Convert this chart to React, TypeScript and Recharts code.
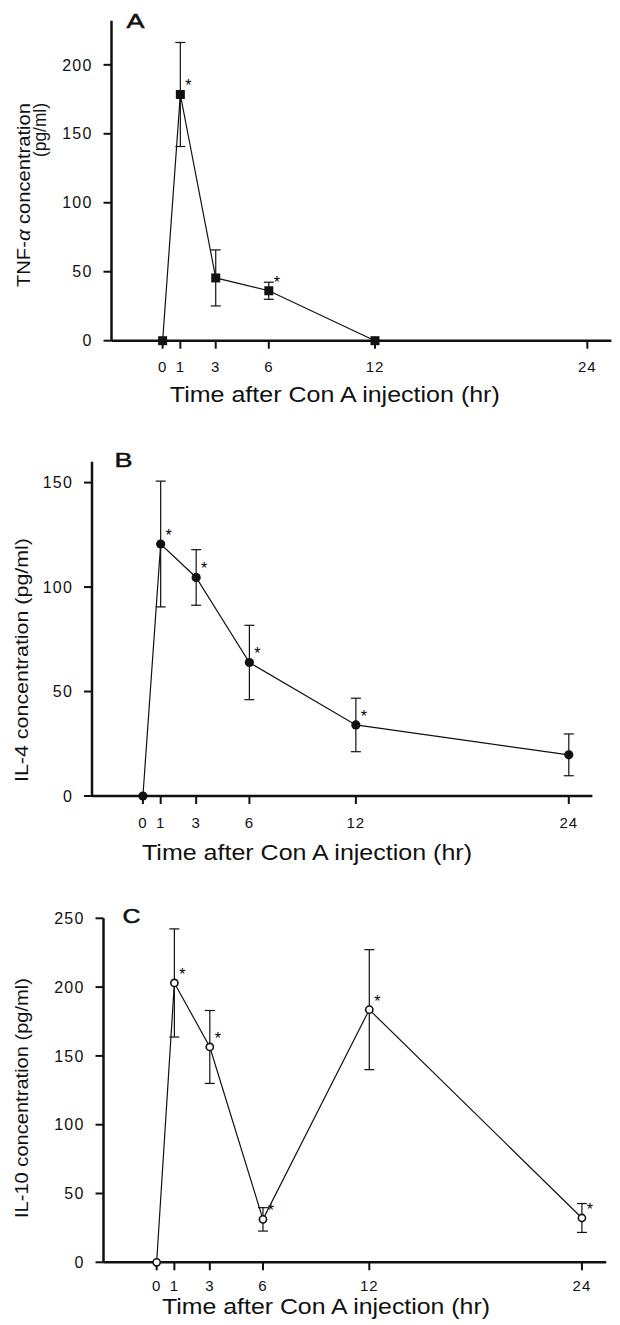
import React from "react";
import { ErrorBar, LabelList, Line, LineChart, XAxis, YAxis } from "recharts";

// sampling times (hr after Con A)
const hours = [0, 1, 3, 6, 12, 24];

// A: TNF-alpha (no sample at 24 hr)
const tnfMean = [0, 178.5, 45.5, 36.2, 0];
const tnfErr = [null, 37.7, 20.3, 6.2, null];
const tnfSig = [false, true, false, true, false];

// B: IL-4
const il4Mean = [0, 120.6, 104.6, 63.9, 34, 19.7];
const il4Err = [null, 30.1, 13.3, 17.8, 12.8, 10];
const il4Sig = [false, true, true, true, true, false];

// C: IL-10
const il10Mean = [0, 203, 156.5, 31.2, 183.6, 32.2];
const il10Err = [null, 39.3, 26.5, 8.5, 43.6, 10.5];
const il10Sig = [false, true, true, true, true, true];

const tnfTicks = [0, 50, 100, 150, 200];
const il4Ticks = [0, 50, 100, 150];
const il10Ticks = [0, 50, 100, 150, 200, 250];

const xTitle = "Time after Con A injection (hr)";

const FONT = '"Liberation Sans", Arial, Helvetica, sans-serif';
const INK = "#111";

const toRows = (mean: number[], err: (number | null)[], sig: boolean[]) =>
  mean.map((v, i) => ({
    hour: hours[i],
    value: v,
    err: err[i] == null ? undefined : err[i],
    sig: sig[i] ? "*" : "",
  }));

const squareDot = (p: any) => (
  <rect key={`sq-${p.index}`} x={p.cx - 4.5} y={p.cy - 4.5} width={9} height={9} fill={INK} />
);
const discDot = (p: any) => (
  <circle key={`dc-${p.index}`} cx={p.cx} cy={p.cy} r={4.6} fill={INK} />
);
const ringDot = (p: any) => (
  <circle key={`rg-${p.index}`} cx={p.cx} cy={p.cy} r={3.6} fill="#fff" stroke={INK} strokeWidth={1.6} />
);

const renderStar = (p: any) => {
  if (!p.value) return null;
  const x = Number(p.x ?? p.viewBox?.x);
  const y = Number(p.y ?? p.viewBox?.y);
  return (
    <text x={x + 8} y={y - 3} textAnchor="middle" fontSize={16} fontFamily={FONT} fill="#000" stroke="none">
      *
    </text>
  );
};

type TitleLine = { text: React.ReactNode; x: number; y: number; len: number; size: number; anchor: string };

interface PanelProps {
  top: number;
  height: number;
  plot: { left: number; top: number; right: number; bottom: number };
  data: any[];
  xDomain: number[];
  yDomain: number[];
  yTicks: number[];
  dot: any;
  letter: { text: string; x: number; y: number };
  yLines: TitleLine[];
  xLine: { x: number; y: number; len: number };
  xTickGap: number;
}

const Panel = ({ top, height, plot, data, xDomain, yDomain, yTicks, dot, letter, yLines, xLine, xTickGap }: PanelProps) => {
  const yLabel = () => (
    <g fontFamily={FONT} fill={INK}>
      {yLines.map((l, i) => (
        <text
          key={i}
          x={l.x}
          y={l.y}
          transform={`rotate(-90 ${l.x} ${l.y})`}
          textAnchor={l.anchor}
          fontSize={l.size}
          textLength={l.len}
          lengthAdjust="spacingAndGlyphs"
        >
          {l.text}
        </text>
      ))}
      <text x={letter.x} y={letter.y} fontSize={21} textLength={18} lengthAdjust="spacingAndGlyphs" stroke={INK} strokeWidth={0.5}>
        {letter.text}
      </text>
    </g>
  );
  const xLabel = () => (
    <text
      x={xLine.x}
      y={xLine.y}
      fontSize={22}
      fontFamily={FONT}
      fill={INK}
      textLength={xLine.len}
      lengthAdjust="spacingAndGlyphs"
    >
      {xTitle}
    </text>
  );
  return (
    <div style={{ position: "absolute", left: 0, top }}>
      <LineChart
        width={620}
        height={height}
        data={data}
        margin={{ top: plot.top, right: 620 - plot.right, bottom: 0, left: 0 }}
      >
        <XAxis
          dataKey="hour"
          type="number"
          domain={xDomain}
          ticks={hours}
          interval={0}
          height={height - plot.bottom}
          tickSize={8}
          tickMargin={xTickGap}
          axisLine={{ stroke: INK, strokeWidth: 2.5 }}
          tickLine={{ stroke: INK, strokeWidth: 2 }}
          tick={{ fill: INK, fontSize: 15, fontFamily: FONT, letterSpacing: 1 }}
          label={xLabel}
        />
        <YAxis
          type="number"
          domain={yDomain}
          ticks={yTicks}
          interval={0}
          width={plot.left}
          tickSize={8}
          tickMargin={11}
          axisLine={{ stroke: INK, strokeWidth: 2.5 }}
          tickLine={{ stroke: INK, strokeWidth: 2 }}
          tick={{ fill: INK, fontSize: 16, fontFamily: FONT, letterSpacing: 1.2 }}
          label={yLabel}
        />
        <Line
          type="linear"
          dataKey="value"
          stroke={INK}
          strokeWidth={1.2}
          dot={dot}
          activeDot={false}
          isAnimationActive={false}
        >
          <ErrorBar dataKey="err" direction="y" width={5} stroke={INK} strokeWidth={1.2} isAnimationActive={false} />
          <LabelList dataKey="sig" content={renderStar} />
        </Line>
      </LineChart>
    </div>
  );
};

const App = () => {
  return (
    <div style={{ position: "absolute", left: 0, top: 0, width: 620, height: 1325, background: "#fff" }}>
      <Panel
        top={0}
        height={420}
        plot={{ left: 111.5, top: 20.7, right: 611.4, bottom: 340.7 }}
        data={toRows(tnfMean, tnfErr, tnfSig)}
        xDomain={[-2.89, 25.36]}
        yDomain={[0, 232]}
        yTicks={tnfTicks}
        dot={squareDot}
        letter={{ text: "A", x: 126.4, y: 28 }}
        yLines={[
          {
            text: (
              <>
                TNF-<tspan fontStyle="italic">α</tspan> concentration
              </>
            ),
            x: 30,
            y: 103,
            len: 184,
            size: 18,
            anchor: "end",
          },
          { text: "(pg/ml)", x: 46, y: 103, len: 54, size: 18, anchor: "end" },
        ]}
        xLine={{ x: 169.8, y: 402, len: 330 }}
        xTickGap={13}
      />
      <Panel
        top={420}
        height={450}
        plot={{ left: 92, top: 41.7, right: 592.4, bottom: 376 }}
        data={toRows(il4Mean, il4Err, il4Sig)}
        xDomain={[-2.87, 25.33]}
        yDomain={[0, 160]}
        yTicks={il4Ticks}
        dot={discDot}
        letter={{ text: "B", x: 114.5, y: 46.7 }}
        yLines={[{ text: "IL-4 concentration (pg/ml)", x: 28, y: 240, len: 244, size: 18, anchor: "middle" }]}
        xLine={{ x: 142, y: 440, len: 330 }}
        xTickGap={13}
      />
      <Panel
        top={860}
        height={465}
        plot={{ left: 103.5, top: 58.3, right: 606.2, bottom: 402.3 }}
        data={toRows(il10Mean, il10Err, il10Sig)}
        xDomain={[-3.0, 25.37]}
        yDomain={[0, 250]}
        yTicks={il10Ticks}
        dot={ringDot}
        letter={{ text: "C", x: 122.4, y: 63.3 }}
        yLines={[{ text: "IL-10 concentration (pg/ml)", x: 28, y: 238, len: 240, size: 18, anchor: "middle" }]}
        xLine={{ x: 162, y: 454, len: 328 }}
        xTickGap={10}
      />
    </div>
  );
};

export default App;
